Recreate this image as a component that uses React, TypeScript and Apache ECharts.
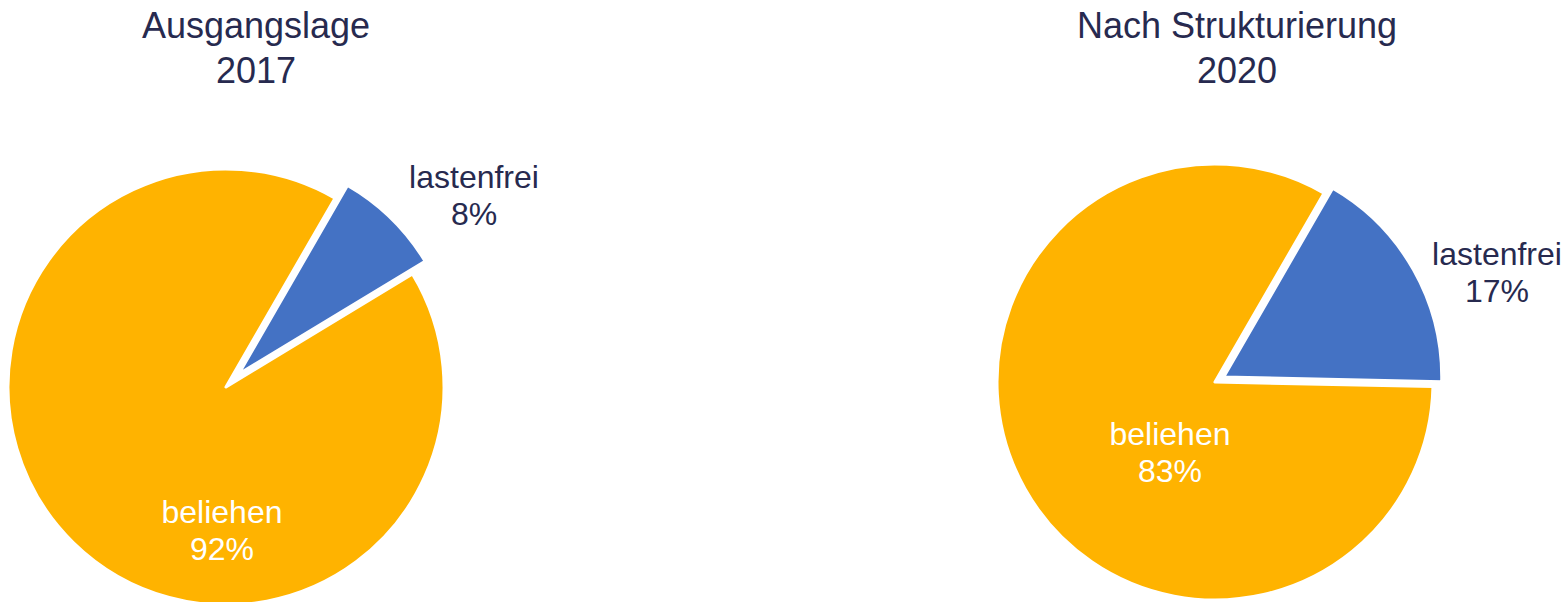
import React, { useEffect, useRef } from "react";
import * as echarts from "echarts";

const categories = ["lastenfrei", "beliehen"];
const values2017 = [8, 92];
const values2020 = [17, 83];
const chartTitles = ["Ausgangslage", "Nach Strukturierung"];
const years = ["2017", "2020"];

const COLORS = ["#4472C4", "#FFB300"];
const LABEL_COLORS = ["#272A4F", "#ffffff"];
const TEXT_DARK = "#272A4F";
const FONT = "'Liberation Sans', Arial, sans-serif";
const START_ANGLE = 60;

export default function App() {
  const ref = useRef<HTMLDivElement>(null);

  useEffect(() => {
    if (!ref.current) return;
    const chart = echarts.init(ref.current, null, { renderer: "svg" });

    const pies = [
      {
        values: values2017,
        center: [226, 387],
        titleX: 256,
        labelPos: [
          [474, 195],
          [222, 530],
        ],
        offset: 18,
      },
      {
        values: values2020,
        center: [1215, 382],
        titleX: 1237,
        labelPos: [
          [1497, 272],
          [1170, 452],
        ],
        offset: 10,
      },
    ];

    const series: any[] = [];
    pies.forEach((p) => {
      const total = p.values.reduce((a, b) => a + b, 0);
      const midDeg = START_ANGLE - ((p.values[0] / total) * 360) / 2;
      const rad = (midDeg * Math.PI) / 180;
      const explodedCenter = [
        p.center[0] + p.offset * Math.cos(rad),
        p.center[1] - p.offset * Math.sin(rad),
      ];
      // visibleIndex: which slice this series shows
      [1, 0].forEach((visibleIndex) => {
        series.push({
          type: "pie",
          center: visibleIndex === 0 ? explodedCenter : p.center,
          radius: 218,
          startAngle: START_ANGLE,
          clockwise: true,
          avoidLabelOverlap: false,
          silent: true,
          labelLine: { show: false },
          emphasis: { disabled: true },
          label: {
            show: true,
            position: "inside",
            fontFamily: FONT,
            fontSize: 32,
            lineHeight: 37,
            formatter: (params: any) =>
              params.name + "\n" + Math.round(params.percent) + "%",
          },
          labelLayout: (params: any) => {
            const pos = p.labelPos[params.dataIndex];
            return { x: pos[0], y: pos[1], align: "center", verticalAlign: "middle" };
          },
          data: categories.map((name, i) => ({
            name,
            value: p.values[i],
            itemStyle:
              i === visibleIndex
                ? { color: COLORS[i], borderColor: "#ffffff", borderWidth: 3 }
                : { color: "rgba(0,0,0,0)", borderWidth: 0 },
            label: { show: i === visibleIndex, color: LABEL_COLORS[i] },
          })),
        });
      });
    });

    const option: any = {
      animation: false,
      backgroundColor: "#ffffff",
      title: pies.map((p, i) => ({
        text: chartTitles[i] + "\n" + years[i],
        left: p.titleX,
        top: 3,
        padding: 0,
        textAlign: "center",
        textStyle: {
          fontFamily: FONT,
          fontSize: 36,
          lineHeight: 45,
          fontWeight: "normal",
          color: TEXT_DARK,
        },
      })),
      series,
    };

    chart.setOption(option);
    return () => chart.dispose();
  }, []);

  return (
    <div
      ref={ref}
      style={{ position: "absolute", left: 0, top: 0, width: 1567, height: 602 }}
    />
  );
}
